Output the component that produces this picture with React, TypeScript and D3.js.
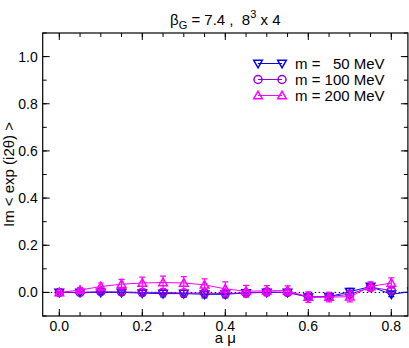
import React from 'react';
import * as d3 from 'd3';

// a*mu values
const amu = [0, 0.05, 0.1, 0.15, 0.2, 0.25, 0.3, 0.35, 0.4, 0.45, 0.5, 0.55, 0.6, 0.65, 0.7, 0.75, 0.8, 0.85];

const m50 = [0.0, 0.0, 0.0, 0.0, -0.003, -0.005, -0.005, -0.008, -0.008, -0.002, 0.0, 0.0, -0.02, -0.018, 0.003, 0.025, -0.008, 0.004];
const m50Err = [0.003, 0.005, 0.007, 0.01, 0.012, 0.014, 0.015, 0.015, 0.015, 0.014, 0.013, 0.012, 0.012, 0.012, 0.014, 0.012, 0.01, 0.01];

const m100 = [0.0, 0.0, 0.003, 0.002, 0.0, 0.0, -0.003, -0.003, -0.005, -0.002, 0.002, 0.0, -0.018, -0.018, -0.008, 0.022, 0.008];
const m100Err = [0.003, 0.005, 0.007, 0.01, 0.012, 0.013, 0.014, 0.014, 0.015, 0.014, 0.013, 0.012, 0.012, 0.012, 0.013, 0.012, 0.012];

const m200 = [0.0, 0.01, 0.025, 0.035, 0.04, 0.042, 0.04, 0.032, 0.015, 0.005, 0.007, 0.008, -0.02, -0.02, -0.018, 0.025, 0.04];
const m200Err = [0.005, 0.01, 0.015, 0.02, 0.025, 0.027, 0.027, 0.025, 0.03, 0.025, 0.022, 0.02, 0.022, 0.02, 0.022, 0.02, 0.022];

const legendLabels = ['m =   50 MeV', 'm = 100 MeV', 'm = 200 MeV'];
const xTicks = [0, 0.2, 0.4, 0.6, 0.8];
const yTicks = [0, 0.2, 0.4, 0.6, 0.8, 1.0];

const FONT = 'Liberation Sans, Arial, Helvetica, sans-serif';

const series = [
  { vals: m50, err: m50Err, color: '#0000ff', shape: 'down' },
  { vals: m100, err: m100Err, color: '#9400d3', shape: 'circle' },
  { vals: m200, err: m200Err, color: '#ff00ff', shape: 'up' },
];

function Marker({ x, y, shape, color }: { x: number; y: number; shape: string; color: string }) {
  if (shape === 'circle') {
    return <circle cx={x} cy={y} r={4} fill="none" stroke={color} strokeWidth={1.5} />;
  }
  const s = 4.3;
  const pts = shape === 'up'
    ? [[x, y - s], [x + s, y + s * 0.75], [x - s, y + s * 0.75]]
    : [[x, y + s], [x + s, y - s * 0.75], [x - s, y - s * 0.75]];
  return <polygon points={pts.map((p) => p.join(',')).join(' ')} fill="none" stroke={color} strokeWidth={1.5} />;
}

export default function App() {
  const width = 409, height = 348;
  const left = 42.7, right = 407.9, top = 33, bottom = 316;

  const x = d3.scaleLinear().domain([-0.04, 0.84]).range([left, right]);
  const y = d3.scaleLinear().domain([-0.1, 1.1]).range([bottom, top]);

  const xMinor = d3.range(0, 0.84, 0.05);
  const yMinor = d3.range(-0.1, 1.1, 0.1);

  const line = d3.line<number>().x((d, i) => x(amu[i])).y((d) => y(d));

  const cx = (left + right) / 2;
  const cy = (top + bottom) / 2;

  return (
    <svg width={width} height={height} style={{ position: 'absolute', left: 0, top: 0, background: '#fff' }} fontFamily={FONT}>
      <defs>
        <clipPath id="plot">
          <rect x={left} y={top} width={right - left} height={bottom - top} />
        </clipPath>
      </defs>

      {/* title */}
      <text x={cx} y={25} textAnchor="middle" fontSize={15}>
        β<tspan fontSize={11} dy={4}>G</tspan>
        <tspan dy={-4} xmlSpace="preserve" style={{ whiteSpace: 'pre' }}> = 7.4 ,  8</tspan>
        <tspan fontSize={11} dy={-7}>3</tspan>
        <tspan dy={7}> x 4</tspan>
      </text>

      {/* ticks, inward on all four sides */}
      <g stroke="#000" strokeWidth={1}>
        {xMinor.map((t, i) => (
          <g key={'xm' + i}>
            <line x1={x(t)} x2={x(t)} y1={bottom} y2={bottom - 4} />
            <line x1={x(t)} x2={x(t)} y1={top} y2={top + 4} />
          </g>
        ))}
        {yMinor.map((t, i) => (
          <g key={'ym' + i}>
            <line x1={left} x2={left + 4} y1={y(t)} y2={y(t)} />
            <line x1={right} x2={right - 4} y1={y(t)} y2={y(t)} />
          </g>
        ))}
        {xTicks.map((t, i) => (
          <g key={'xt' + i}>
            <line x1={x(t)} x2={x(t)} y1={bottom} y2={bottom - 7} />
            <line x1={x(t)} x2={x(t)} y1={top} y2={top + 7} />
          </g>
        ))}
        {yTicks.map((t, i) => (
          <g key={'yt' + i}>
            <line x1={left} x2={left + 7} y1={y(t)} y2={y(t)} />
            <line x1={right} x2={right - 7} y1={y(t)} y2={y(t)} />
          </g>
        ))}
      </g>

      {/* tick labels */}
      {xTicks.map((t, i) => (
        <text key={'xl' + i} x={x(t)} y={bottom + 15} textAnchor="middle" fontSize={14}>{t.toFixed(1)}</text>
      ))}
      {yTicks.map((t, i) => (
        <text key={'yl' + i} x={left - 5} y={y(t) + 5} textAnchor="end" fontSize={14}>{t.toFixed(1)}</text>
      ))}

      {/* axis labels */}
      <text x={cx} y={343} textAnchor="middle" fontSize={15}>a μ</text>
      <text transform={`translate(14,${cy}) rotate(-90)`} textAnchor="middle" fontSize={15}>Im &lt; exp (i2θ) &gt;</text>

      <g clipPath="url(#plot)">
        {/* zero reference */}
        <line x1={left} x2={right} y1={y(0)} y2={y(0)} stroke="#000" strokeDasharray="1.5,2.5" strokeWidth={1} />

        {series.map((s, si) => (
          <g key={'s' + si}>
            <path d={line(s.vals) || ''} fill="none" stroke={s.color} strokeWidth={1} />
            {s.vals.map((v, i) => {
              const px = x(amu[i]);
              const y1 = y(v - s.err[i]);
              const y2 = y(v + s.err[i]);
              return (
                <g key={i} stroke={s.color} strokeWidth={1.2}>
                  <line x1={px} x2={px} y1={y1} y2={y2} />
                  <line x1={px - 3} x2={px + 3} y1={y1} y2={y1} />
                  <line x1={px - 3} x2={px + 3} y1={y2} y2={y2} />
                </g>
              );
            })}
            {s.vals.map((v, i) => (
              <Marker key={'m' + i} x={x(amu[i])} y={y(v)} shape={s.shape} color={s.color} />
            ))}
          </g>
        ))}
      </g>

      {/* frame */}
      <rect x={left} y={top} width={right - left} height={bottom - top} fill="none" stroke="#000" strokeWidth={1.2} />

      {/* legend */}
      {series.map((s, i) => {
        const ly = 63.5 + i * 16;
        return (
          <g key={'lg' + i}>
            <line x1={258} x2={282} y1={ly} y2={ly} stroke={s.color} strokeWidth={1} />
            <Marker x={258} y={ly} shape={s.shape} color={s.color} />
            <Marker x={282} y={ly} shape={s.shape} color={s.color} />
            <text x={295} y={ly + 5} fontSize={15} style={{ whiteSpace: 'pre' }}>{legendLabels[i]}</text>
          </g>
        );
      })}
    </svg>
  );
}
